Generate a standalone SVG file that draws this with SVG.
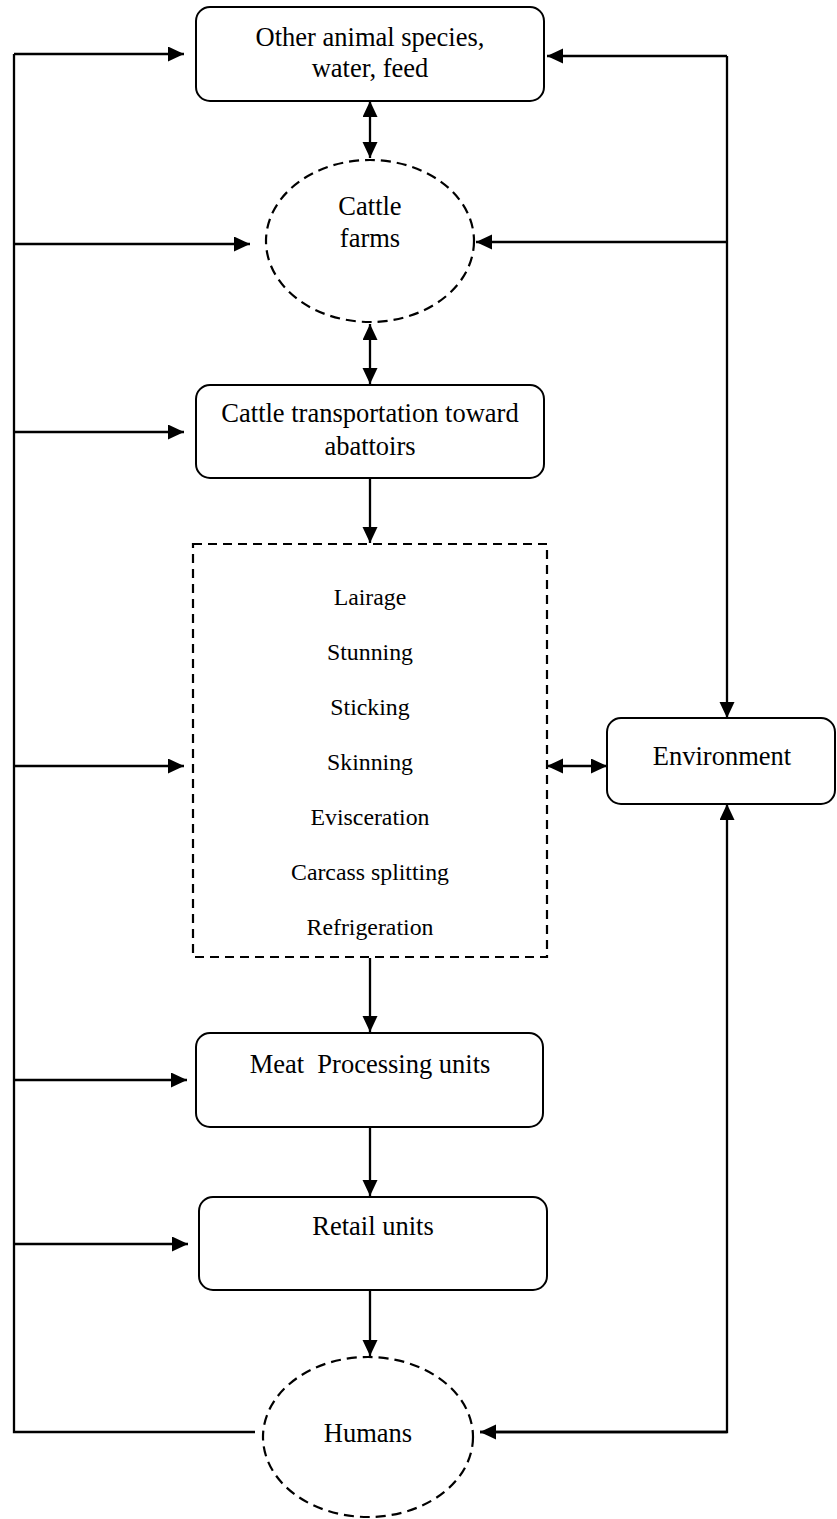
<svg xmlns="http://www.w3.org/2000/svg" width="837" height="1519" viewBox="0 0 837 1519">
<defs>
<marker id="ah" markerUnits="userSpaceOnUse" markerWidth="17" markerHeight="16" refX="16" refY="7.5" orient="auto-start-reverse" viewBox="0 0 17 16">
<path d="M0,0 L16,7.5 L0,15 z" fill="#000"/>
</marker>
<style>
.box{fill:#fff;stroke:#000;stroke-width:2}
.dash{fill:#fff;stroke:#000;stroke-width:2.2;stroke-dasharray:10 6}
.t{font-family:"Liberation Serif","Times New Roman",serif;font-size:26.5px;fill:#000;text-anchor:middle}
.s{font-family:"Liberation Serif","Times New Roman",serif;font-size:23.8px;fill:#000;text-anchor:middle}
.c{fill:none;stroke:#000;stroke-width:2.3}
.a{fill:none;stroke:#000;stroke-width:2.3;marker-end:url(#ah)}
.u{fill:none;stroke:#000;stroke-width:2.3;marker-start:url(#ah)}
.d{fill:none;stroke:#000;stroke-width:2.3;marker-start:url(#ah);marker-end:url(#ah)}
</style>
</defs>
<rect width="837" height="1519" fill="#fff"/>
<g id="connectors">
<polyline class="c" points="255,1432 14,1432 14,54"/>
<line class="a" x1="14" y1="54" x2="184" y2="54"/>
<line class="a" x1="14" y1="244" x2="250" y2="244"/>
<line class="a" x1="14" y1="432" x2="184" y2="432"/>
<line class="a" x1="14" y1="766" x2="184" y2="766"/>
<line class="a" x1="14" y1="1080" x2="187" y2="1080"/>
<line class="a" x1="14" y1="1244" x2="188" y2="1244"/>
<line class="a" x1="727" y1="56" x2="547" y2="56"/>
<line class="a" x1="727" y1="242" x2="476" y2="242"/>
<line class="a" x1="727" y1="56" x2="727" y2="718"/>
<polyline class="u" points="727,804 727,1432 480,1432"/>
<line class="a" x1="727" y1="1432" x2="480" y2="1432"/>
<line class="d" x1="547" y1="766" x2="607" y2="766"/>
<line class="d" x1="370" y1="101" x2="370" y2="158"/>
<line class="d" x1="370" y1="324" x2="370" y2="384"/>
<line class="a" x1="370" y1="478" x2="370" y2="543"/>
<line class="a" x1="370" y1="958" x2="370" y2="1032"/>
<line class="a" x1="370" y1="1127" x2="370" y2="1196"/>
<line class="a" x1="370" y1="1290" x2="370" y2="1356"/>
</g>
<g id="node-other">
<rect class="box" x="196" y="7" width="348" height="94" rx="14"/>
<text class="t" x="370" y="46">Other animal species,</text>
<text class="t" x="370" y="77">water, feed</text>
</g>
<g id="node-farms">
<ellipse class="dash" cx="370" cy="241" rx="104" ry="81"/>
<text class="t" x="370" y="215">Cattle</text>
<text class="t" x="370" y="247">farms</text>
</g>
<g id="node-transport">
<rect class="box" x="196" y="385" width="348" height="93" rx="14"/>
<text class="t" x="370" y="422">Cattle transportation toward</text>
<text class="t" x="370" y="455">abattoirs</text>
</g>
<g id="node-abattoir">
<rect class="dash" x="193" y="544" width="354" height="413" style="stroke-dasharray:9 6"/>
<text class="s" x="370" y="605">Lairage</text>
<text class="s" x="370" y="660">Stunning</text>
<text class="s" x="370" y="715">Sticking</text>
<text class="s" x="370" y="770">Skinning</text>
<text class="s" x="370" y="825">Evisceration</text>
<text class="s" x="370" y="880">Carcass splitting</text>
<text class="s" x="370" y="935">Refrigeration</text>
</g>
<g id="node-environment">
<rect class="box" x="607" y="718" width="228" height="86" rx="14"/>
<text class="t" x="722" y="765">Environment</text>
</g>
<g id="node-meat">
<rect class="box" x="196" y="1033" width="347" height="94" rx="14"/>
<text class="t" x="370" y="1073" xml:space="preserve">Meat  Processing units</text>
</g>
<g id="node-retail">
<rect class="box" x="199" y="1197" width="348" height="93" rx="14"/>
<text class="t" x="373" y="1235">Retail units</text>
</g>
<g id="node-humans">
<ellipse class="dash" cx="368" cy="1437" rx="105" ry="80"/>
<text class="t" x="368" y="1442">Humans</text>
</g>
</svg>
